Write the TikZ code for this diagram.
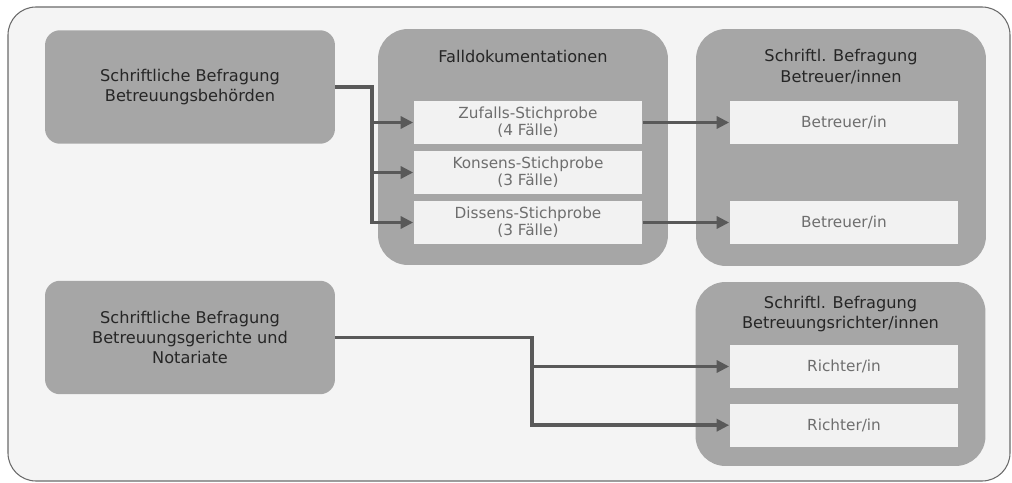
\documentclass[tikz,border=0pt]{standalone}
\usepackage{fontspec}
\setmainfont{DejaVu Sans}
\usetikzlibrary{arrows.meta, positioning}
\definecolor{framefill}{HTML}{F4F4F4}
\definecolor{framedraw}{HTML}{6A6A6A}
\definecolor{boxgray}{HTML}{A6A6A6}
\definecolor{lightbox}{HTML}{F2F2F2}
\definecolor{darktext}{HTML}{262626}
\definecolor{softtext}{HTML}{6E6E6E}
\definecolor{linegray}{HTML}{595959}

\begin{document}
\begin{tikzpicture}[x=0.02cm, y=-0.02cm,
  source/.style={rectangle, rounded corners=0.3cm, fill=boxgray, text=darktext,
                 minimum width=5.8cm, minimum height=2.27cm, align=center, inner sep=0pt,
                 font=\fontsize{9.2}{11.4}\selectfont},
  group/.style={rectangle, rounded corners=0.6cm, fill=boxgray,
                minimum width=5.8cm, inner sep=0pt},
  title/.style={align=center, text=darktext, inner sep=0pt,
                font=\fontsize{9.2}{11.8}\selectfont},
  sample/.style={rectangle, fill=lightbox, text=softtext, align=center, inner sep=0pt,
                 minimum width=4.58cm, minimum height=0.86cm,
                 font=\fontsize{8.7}{9.8}\selectfont},
  arr/.style={-{Triangle[length=2.5mm, width=2.4mm]}, line width=2.2pt, draw=linegray}
]
  \useasboundingbox (0,0) rectangle (1012,483);
  \draw[fill=framefill, draw=framedraw, line width=0.6pt, rounded corners=0.56cm]
    (8,7) rectangle (1010,481);

  % sources
  \node[source] (behoerden) at (190,87) {Schriftliche Befragung\\Betreuungsbehörden};
  \node[source] (gerichte) at (190,337.5) {Schriftliche Befragung\\Betreuungsgerichte und\\Notariate};

  % Falldokumentationen
  \node[group, minimum height=4.72cm] (falldok) at (523,147) {};
  \node[title] (falldoktitle) at (523,56) {Falldokumentationen};
  \node[sample] (zufall) at (528,122.5) {Zufalls-Stichprobe\\(4 Fälle)};
  \node[sample] (konsens) at (528,172.5) {Konsens-Stichprobe\\(3 Fälle)};
  \node[sample] (dissens) at (528,222.5) {Dissens-Stichprobe\\(3 Fälle)};

  % Betreuer/innen
  \node[group, minimum height=4.74cm] (betreuer) at (841,147.5) {};
  \node[title] (betreuertitle) at (841,66.5) {Schriftl. Befragung\\Betreuer/innen};
  \node[sample] (betreuerA) at (844,122.5) {Betreuer/in};
  \node[sample] (betreuerB) at (844,222.5) {Betreuer/in};

  % Richter/innen
  \node[group, minimum height=3.68cm] (richter) at (840.5,374) {};
  \node[title] (richtertitle) at (840.5,314) {Schriftl. Befragung\\Betreuungsrichter/innen};
  \node[sample] (richterA) at (844,366.5) {Richter/in};
  \node[sample, below=0.3cm of richterA] (richterB) {Richter/in};

  % connectors
  \draw[arr] (behoerden.east) -- ++(37,0) |- (zufall.west);
  \draw[arr] (behoerden.east) -- ++(37,0) |- (konsens.west);
  \draw[arr] (behoerden.east) -- ++(37,0) |- (dissens.west);
  \draw[arr] (zufall.east) -- (betreuerA.west);
  \draw[arr] (dissens.east) -- (betreuerB.west);
  \draw[arr] (gerichte.east) -- ++(197,0) |- (richterA.west);
  \draw[arr] (gerichte.east) -- ++(197,0) |- (richterB.west);
\end{tikzpicture}
\end{document}
